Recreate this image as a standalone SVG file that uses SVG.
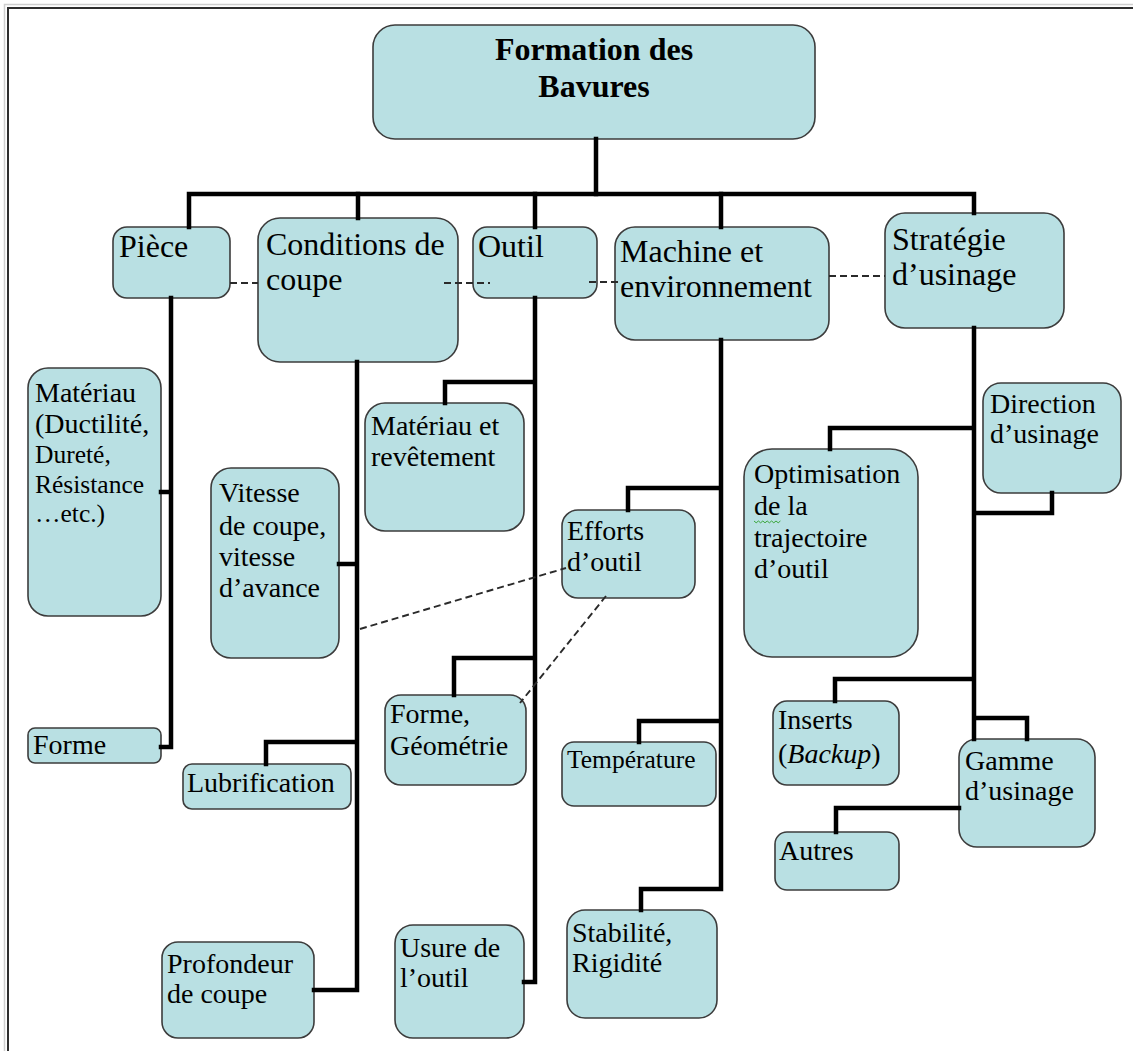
<svg xmlns="http://www.w3.org/2000/svg" width="1133" height="1051" viewBox="0 0 1133 1051">
<style>
.box{fill:#b9e0e3;stroke:#3c3c3c;stroke-width:1.6}
.t{font-family:"Liberation Serif","Times New Roman",serif;font-size:28px;fill:#000}
.t1{font-size:32px}
.ts{font-size:25.5px}
.b{font-weight:bold;font-size:32px;text-anchor:middle}
.c{fill:none;stroke:#000;stroke-width:4.5;stroke-linejoin:miter;stroke-linecap:square}
.d{fill:none;stroke:#2a2a2a;stroke-width:1.9;stroke-dasharray:7 4}
</style>
<rect width="1133" height="1051" fill="#fff"/>
<path d="M4.5,1051 V4.5 H1133" fill="none" stroke="#cfcfcf" stroke-width="1.5"/>
<path d="M8,1051 V8 H1133" fill="none" stroke="#2e2e2e" stroke-width="2"/>

<g id="root"><rect class="box" x="373" y="25" width="442" height="114" rx="22"/>
<text class="t b" x="594" y="60">Formation des</text><text class="t b" x="594" y="97">Bavures</text></g>

<g id="piece"><rect class="box" x="113" y="227" width="117" height="71" rx="14"/>
<text class="t t1" x="119" y="257">Pièce</text></g>
<g id="conditions"><rect class="box" x="258" y="218" width="200" height="144" rx="22"/>
<text class="t t1" x="266" y="255">Conditions de</text><text class="t t1" x="266" y="290">coupe</text></g>
<g id="outil"><rect class="box" x="473" y="227" width="124" height="71" rx="14"/>
<text class="t t1" x="478" y="257">Outil</text></g>
<g id="machine"><rect class="box" x="615" y="227" width="214" height="113" rx="20"/>
<text class="t t1" x="620" y="262">Machine et</text><text class="t t1" x="620" y="297">environnement</text></g>
<g id="strategie"><rect class="box" x="885" y="213" width="179" height="115" rx="20"/>
<text class="t t1" x="892" y="250">Stratégie</text><text class="t t1" x="892" y="285">d’usinage</text></g>

<g id="materiau"><rect class="box" x="28" y="368" width="133" height="248" rx="20"/>
<text class="t" x="35" y="402">Matériau</text><text class="t" x="35" y="433">(Ductilité,</text>
<text class="t ts" x="35" y="463">Dureté,</text><text class="t ts" x="35" y="493">Résistance</text><text class="t ts" x="35" y="522">…etc.)</text></g>
<g id="forme"><rect class="box" x="28" y="728" width="133" height="35" rx="7"/>
<text class="t" x="33" y="754">Forme</text></g>
<g id="vitesse"><rect class="box" x="211" y="468" width="128" height="190" rx="20"/>
<text class="t" x="219" y="502">Vitesse</text><text class="t" x="219" y="535">de coupe,</text><text class="t" x="219" y="566">vitesse</text><text class="t" x="219" y="597">d’avance</text></g>
<g id="lubrification"><rect class="box" x="183" y="764" width="168" height="45" rx="9"/>
<text class="t" x="187" y="792">Lubrification</text></g>
<g id="profondeur"><rect class="box" x="162" y="942" width="152" height="96" rx="16"/>
<text class="t" x="167" y="973">Profondeur</text><text class="t" x="167" y="1003">de coupe</text></g>
<g id="materiau-revetement"><rect class="box" x="365" y="403" width="159" height="128" rx="20"/>
<text class="t" x="371" y="435">Matériau et</text><text class="t" x="371" y="466">revêtement</text></g>
<g id="forme-geometrie"><rect class="box" x="385" y="695" width="141" height="90" rx="16"/>
<text class="t" x="390" y="723">Forme,</text><text class="t" x="390" y="755">Géométrie</text></g>
<g id="usure"><rect class="box" x="395" y="925" width="129" height="113" rx="18"/>
<text class="t" x="400" y="957">Usure de</text><text class="t" x="400" y="987">l’outil</text></g>
<g id="efforts"><rect class="box" x="562" y="510" width="133" height="88" rx="16"/>
<text class="t" x="567" y="540">Efforts</text><text class="t" x="567" y="571">d’outil</text></g>
<g id="temperature"><rect class="box" x="562" y="742" width="154" height="64" rx="12"/>
<text class="t ts" x="567" y="768">Température</text></g>
<g id="stabilite"><rect class="box" x="567" y="910" width="150" height="108" rx="18"/>
<text class="t" x="572" y="942">Stabilité,</text><text class="t" x="572" y="972">Rigidité</text></g>
<g id="optimisation"><rect class="box" x="744" y="449" width="174" height="208" rx="28"/>
<text class="t" x="754" y="483">Optimisation</text><text class="t" x="754" y="515">de la</text><text class="t" x="754" y="547">trajectoire</text><text class="t" x="754" y="578">d’outil</text>
<path d="M754,521 l2.2,1.8 2.2,-1.8 2.2,1.8 2.2,-1.8 2.2,1.8 2.2,-1.8 2.2,1.8 2.2,-1.8 2.2,1.8 2.2,-1.8 2.2,1.8 2.2,-1.8" fill="none" stroke="#3aa63a" stroke-width="1"/></g>
<g id="direction"><rect class="box" x="983" y="383" width="138" height="110" rx="18"/>
<text class="t" x="990" y="413">Direction</text><text class="t" x="990" y="443">d’usinage</text></g>
<g id="inserts"><rect class="box" x="773" y="701" width="126" height="84" rx="14"/>
<text class="t" x="778" y="729">Inserts</text><text class="t" x="778" y="763">(<tspan font-style="italic">Backup</tspan>)</text></g>
<g id="gamme"><rect class="box" x="959" y="739" width="136" height="108" rx="18"/>
<text class="t" x="965" y="770">Gamme</text><text class="t" x="965" y="800">d’usinage</text></g>
<g id="autres"><rect class="box" x="775" y="832" width="124" height="58" rx="12"/>
<text class="t" x="779" y="860">Autres</text></g>

<g id="connectors">
<path class="c" d="M596,139 V194"/>
<path class="c" d="M189,227 V194 H974 V213"/>
<path class="c" d="M358,194 V218 M535,194 V227 M721,194 V227"/>
<path class="c" d="M171,298 V747 H161 M161,492 H171"/>
<path class="c" d="M357,362 V990 H314 M339,564 H357 M266,764 V742 H357"/>
<path class="c" d="M535,298 V982 H524 M445,403 V382 H535 M454,695 V658 H535"/>
<path class="c" d="M721,340 V889 H641 V910 M628,510 V488 H721 M639,742 V721 H721"/>
<path class="c" d="M974,328 V739 M830,449 V428 H974 M974,513 H1052 V493 M835,701 V679 H974 M974,718 H1027 V739 M959,808 H836 V832"/>
<path class="d" d="M230,283 H258 M444,283 H490 M589,282 H618 M829,276 H885"/>
<path class="d" d="M360,629 L566,568 M606,596 L520,703"/>
</g>
</svg>
